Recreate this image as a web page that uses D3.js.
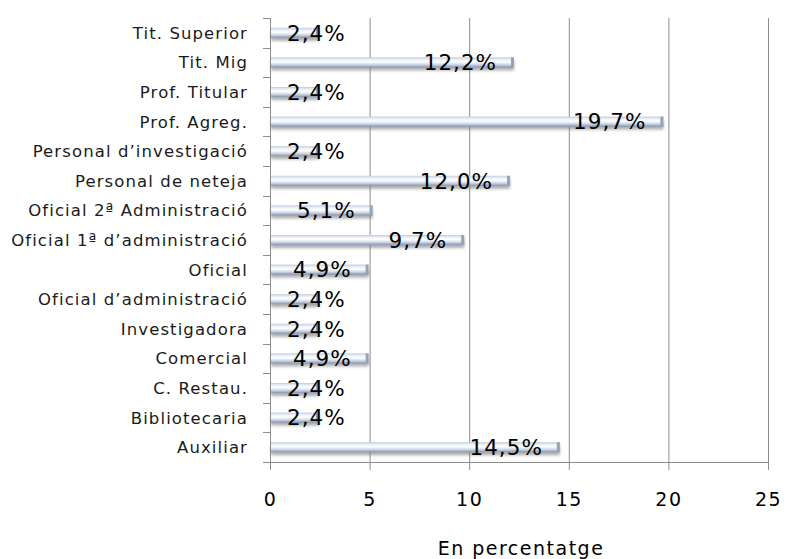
<!DOCTYPE html>
<html><head><meta charset="utf-8">
<script src="https://cdn.jsdelivr.net/npm/d3@7"></script>
<style>body{margin:0;background:#fff}svg{display:block}</style>
</head><body>
<script>
const categories = ["Tit. Superior","Tit.  Mig","Prof. Titular","Prof. Agreg.","Personal d\u2019investigació","Personal de neteja","Oficial 2ª Administració","Oficial 1ª d\u2019administració","Oficial","Oficial d\u2019administració","Investigadora","Comercial","C. Restau.","Bibliotecaria","Auxiliar"];
const values = [2.4,12.2,2.4,19.7,2.4,12.0,5.1,9.7,4.9,2.4,2.4,4.9,2.4,2.4,14.5];
const xTicks = [0,5,10,15,20,25];
const axisTitle = "En percentatge";

const W=801,H=559;
const m={l:270,t:18,r:33,b:97};
const FONT="DejaVu Sans, Verdana, sans-serif";
const svg=d3.select("body").append("svg").attr("width",W).attr("height",H);
const defs=svg.append("defs");
const g1=defs.append("linearGradient").attr("id","bg").attr("x1",0).attr("y1",0).attr("x2",0).attr("y2",1);
[[0,"#bccadf"],[0.2,"#e9eef6"],[0.45,"#ffffff"],[0.7,"#d3dcea"],[1,"#8595b2"]].forEach(s=>g1.append("stop").attr("offset",s[0]).attr("stop-color",s[1]));
const f=defs.append("filter").attr("id","sh").attr("x","-10%").attr("y","-50%").attr("width","120%").attr("height","250%");
f.append("feGaussianBlur").attr("stdDeviation",1.5);

const x=d3.scaleLinear().domain([0,25]).range([m.l,W-m.r]);
const y=d3.scaleBand().domain(categories).range([m.t,H-m.b]);

// gridlines
svg.append("g").selectAll("line").data(xTicks.slice(1)).join("line")
 .attr("x1",d=>x(d)+0.5).attr("x2",d=>x(d)+0.5).attr("y1",m.t).attr("y2",H-m.b)
 .attr("stroke","#8c8c8c").attr("stroke-width",1);

// x axis
const xa=svg.append("g").attr("transform",`translate(0,${H-m.b})`)
 .call(d3.axisBottom(x).tickValues(xTicks).tickSize(8).tickPadding(23).tickFormat(d3.format("d")));
xa.select(".domain").attr("stroke","#8c8c8c").attr("d",`M${m.l},0.5H${W-m.r}`);
xa.selectAll(".tick line").attr("stroke","#8c8c8c");
xa.selectAll("text").attr("font-family",FONT).attr("font-size",19).attr("letter-spacing",1.5).attr("fill","#000");

// y axis
const ya=svg.append("g").attr("transform",`translate(${m.l},0)`);
ya.append("line").attr("x1",0.5).attr("x2",0.5).attr("y1",m.t).attr("y2",H-m.b).attr("stroke","#8c8c8c");
const bounds=categories.map(c=>y(c)).concat([H-m.b]);
ya.selectAll(".tk").data(bounds).join("line").attr("class","tk")
 .attr("x1",-7).attr("x2",0).attr("y1",d=>Math.round(d)+0.5).attr("y2",d=>Math.round(d)+0.5).attr("stroke","#8c8c8c");
ya.selectAll(".lb").data(categories).join("text").attr("class","lb")
 .attr("x",-22).attr("y",d=>y(d)+y.bandwidth()/2).attr("dy","0.36em").attr("text-anchor","end")
 .attr("font-family",FONT).attr("font-size",16.5).attr("letter-spacing",1.1).attr("fill","#1a1a1a")
 .text(d=>d);

// bars
const bh=10;
const bars=svg.append("g");
const data=categories.map((c,i)=>({c,v:values[i]}));
bars.selectAll(".shd").data(data).join("rect").attr("class","shd")
 .attr("x",x(0)+1).attr("y",d=>y(d.c)+y.bandwidth()/2-bh/2+3).attr("width",d=>x(d.v)-x(0)).attr("height",bh)
 .attr("fill","#777").attr("opacity",0.6).attr("filter","url(#sh)");
bars.selectAll(".bar").data(data).join("rect").attr("class","bar")
 .attr("x",x(0)+1).attr("y",d=>y(d.c)+y.bandwidth()/2-bh/2).attr("width",d=>x(d.v)-x(0)).attr("height",bh)
 .attr("fill","url(#bg)");
bars.selectAll(".cap").data(data).join("rect").attr("class","cap")
 .attr("x",d=>x(d.v)-2).attr("y",d=>y(d.c)+y.bandwidth()/2-bh/2).attr("width",3).attr("height",bh)
 .attr("fill","#93a3bc");

// value labels
const vl=svg.append("g").selectAll("text").data(data).join("text")
 .attr("y",d=>y(d.c)+y.bandwidth()/2).attr("dy","0.36em").attr("text-anchor","end")
 .attr("font-family",FONT).attr("font-size",21.5).attr("letter-spacing",1.0).attr("fill","#000")
 .text(d=>d3.format(".1f")(d.v).replace(".",",")+"%");
vl.each(function(d){const w=this.getComputedTextLength();d3.select(this).attr("x",Math.max(x(d.v)-16,x(0)+17+w));});

// axis title
svg.append("text").attr("x",(m.l+W-m.r)/2+2).attr("y",555).attr("text-anchor","middle")
 .attr("font-family",FONT).attr("font-size",19).attr("letter-spacing",1.5).attr("fill","#000").text(axisTitle);
</script>
</body></html>
